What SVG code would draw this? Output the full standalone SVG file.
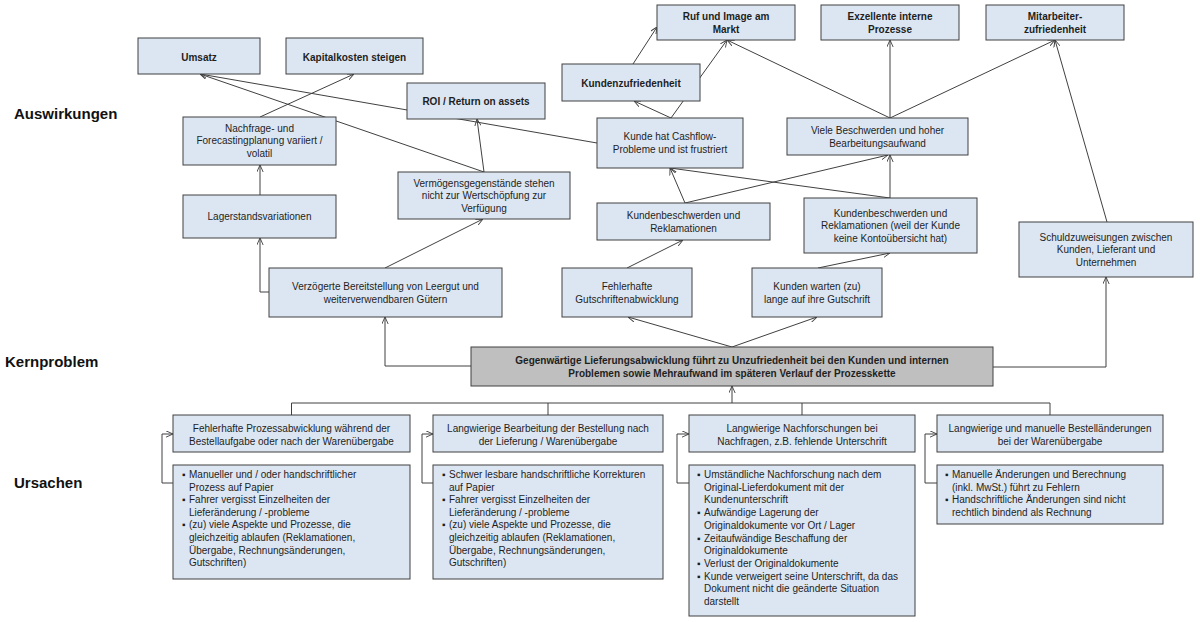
<svg xmlns="http://www.w3.org/2000/svg" width="1200" height="622" viewBox="0 0 1200 622">
<style>
.bx{fill:#dce6f2;stroke:#404040;stroke-width:1}
.core{fill:#bfbfbf;stroke:#404040;stroke-width:1}
.t{font-family:"Liberation Sans",Arial,sans-serif;font-size:10px;fill:#1e1e1e}
.c{text-anchor:middle}
.b{font-weight:bold}
.lab{font-family:"Liberation Sans",Arial,sans-serif;font-size:15px;font-weight:bold;fill:#111}
.ln{fill:none;stroke:#404040;stroke-width:1}
.a{marker-end:url(#arr)}
</style>
<defs>
<marker id="arr" viewBox="0 0 10 10" refX="10" refY="5" markerWidth="7" markerHeight="7" markerUnits="userSpaceOnUse" orient="auto">
<path d="M0,0.5 L10,5 L0,9.5" fill="none" stroke="#404040" stroke-width="1.3"/>
</marker>
</defs>
<rect width="1200" height="622" fill="#ffffff"/>

<g id="labels">
<text class="lab" x="14" y="119">Auswirkungen</text>
<text class="lab" x="5" y="367">Kernproblem</text>
<text class="lab" x="14" y="488">Ursachen</text>
</g>

<g id="connectors">
<path class="ln a" d="M597,143 L200,74"/>
<path class="ln a" d="M484,172 L200,74"/>
<path class="ln a" d="M260,117 L354,74"/>
<path class="ln a" d="M484,172 L477,119"/>
<path class="ln a" d="M260,195 L260,165"/>
<path class="ln a" d="M269,292 L260,292 L260,238"/>
<path class="ln a" d="M385,268 L483,219"/>
<path class="ln a" d="M471,366 L385,366 L385,317"/>
<path class="ln a" d="M732,347 L628,317"/>
<path class="ln a" d="M732,347 L817,317"/>
<path class="ln a" d="M993,367 L1106,367 L1106,277"/>
<path class="ln a" d="M627,268 L683,240"/>
<path class="ln a" d="M818,268 L890,253"/>
<path class="ln a" d="M890,198 L890,155"/>
<path class="ln a" d="M685,203 L670,168"/>
<path class="ln a" d="M685,203 L888,155"/>
<path class="ln a" d="M890,198 L670,168"/>
<path class="ln a" d="M671,118 L634,101"/>
<path class="ln a" d="M671,118 L727,40"/>
<path class="ln a" d="M633,64 L657,27"/>
<path class="ln a" d="M890,118 L727,40"/>
<path class="ln a" d="M890,118 L890,40"/>
<path class="ln a" d="M890,118 L1055,40"/>
<path class="ln a" d="M1107,222 L1055,40"/>
<path class="ln a" d="M732,403 L732,386"/>
<path class="ln" d="M291.5,415 L291.5,403 L1050,403 L1050,415 M548,403 L548,415 M802,403 L802,415"/>
<path class="ln a" d="M173,483 L162,483 L162,434 L173,434"/>
<path class="ln a" d="M433,483 L422,483 L422,434 L433,434"/>
<path class="ln a" d="M689,483 L677,483 L677,434 L689,434"/>
<path class="ln a" d="M937,483 L925,483 L925,434 L937,434"/>
</g>

<g id="n_umsatz"><rect class="bx" x="138" y="38" width="122" height="36"/>
<text class="t c b" x="199" y="60.5">Umsatz</text></g>
<g id="n_kapital"><rect class="bx" x="286" y="38" width="137" height="36"/>
<text class="t c b" x="354.5" y="60.5">Kapitalkosten steigen</text></g>
<g id="n_roi"><rect class="bx" x="407" y="83" width="138" height="36"/>
<text class="t c b" x="476" y="104.5">ROI / Return on assets</text></g>
<g id="n_ruf"><rect class="bx" x="657" y="5" width="138" height="35"/>
<text class="t c b" x="726" y="19.5">Ruf und Image am</text>
<text class="t c b" x="726" y="32.5">Markt</text></g>
<g id="n_exzellent"><rect class="bx" x="821" y="5" width="138" height="35"/>
<text class="t c b" x="890" y="19.5">Exzellente interne</text>
<text class="t c b" x="890" y="32.5">Prozesse</text></g>
<g id="n_mitarbeiter"><rect class="bx" x="986" y="5" width="138" height="35"/>
<text class="t c b" x="1055" y="19.5">Mitarbeiter-</text>
<text class="t c b" x="1055" y="32.5">zufriedenheit</text></g>
<g id="n_kundenzufriedenheit"><rect class="bx" x="562" y="64" width="138" height="37"/>
<text class="t c b" x="631" y="86.5">Kundenzufriedenheit</text></g>
<g id="n_cashflow"><rect class="bx" x="597" y="118" width="146" height="50"/>
<text class="t c" x="670" y="140">Kunde hat Cashflow-</text>
<text class="t c" x="670" y="153">Probleme  und ist frustriert</text></g>
<g id="n_viele"><rect class="bx" x="787" y="118" width="181" height="37"/>
<text class="t c" x="877.5" y="134">Viele Beschwerden und hoher</text>
<text class="t c" x="877.5" y="146.5">Bearbeitungsaufwand</text></g>
<g id="n_nachfrage"><rect class="bx" x="183" y="117" width="153" height="48"/>
<text class="t c" x="259.5" y="131.5">Nachfrage- und</text>
<text class="t c" x="259.5" y="144">Forecastingplanung variiert /</text>
<text class="t c" x="259.5" y="156.5">volatil</text></g>
<g id="n_lager"><rect class="bx" x="183" y="195" width="153" height="43"/>
<text class="t c" x="259.5" y="220">Lagerstandsvariationen</text></g>
<g id="n_vermoegen"><rect class="bx" x="398" y="172" width="172" height="47"/>
<text class="t c" x="484" y="186.5">Vermögensgegenstände stehen</text>
<text class="t c" x="484" y="199">nicht zur Wertschöpfung zur</text>
<text class="t c" x="484" y="211.5">Verfügung</text></g>
<g id="n_kbr"><rect class="bx" x="597" y="203" width="173" height="37"/>
<text class="t c" x="683.5" y="219">Kundenbeschwerden und</text>
<text class="t c" x="683.5" y="231.5">Reklamationen</text></g>
<g id="n_kbw"><rect class="bx" x="804" y="198" width="173" height="55"/>
<text class="t c" x="890.5" y="216.5">Kundenbeschwerden und</text>
<text class="t c" x="890.5" y="229">Reklamationen (weil der Kunde</text>
<text class="t c" x="890.5" y="241.5">keine Kontoübersicht hat)</text></g>
<g id="n_gutschrift"><rect class="bx" x="562" y="268" width="130" height="49"/>
<text class="t c" x="627" y="290">Fehlerhafte</text>
<text class="t c" x="627" y="302.5">Gutschriftenabwicklung</text></g>
<g id="n_verzoegert"><rect class="bx" x="269" y="268" width="233" height="49"/>
<text class="t c" x="385.5" y="290">Verzögerte Bereitstellung von Leergut und</text>
<text class="t c" x="385.5" y="302.5">weiterverwendbaren Gütern</text></g>
<g id="n_warten"><rect class="bx" x="752" y="268" width="130" height="49"/>
<text class="t c" x="817" y="290">Kunden warten  (zu)</text>
<text class="t c" x="817" y="302.5">lange auf ihre Gutschrift</text></g>
<g id="n_schuld"><rect class="bx" x="1019" y="222" width="174" height="55"/>
<text class="t c" x="1106" y="240.5">Schuldzuweisungen zwischen</text>
<text class="t c" x="1106" y="253">Kunden, Lieferant und</text>
<text class="t c" x="1106" y="265.5">Unternehmen</text></g>
<g id="n_kern"><rect class="core" x="471" y="347" width="522" height="39"/>
<text class="t c b" x="732" y="363.5">Gegenwärtige Lieferungsabwicklung führt zu Unzufriedenheit bei den Kunden und internen</text>
<text class="t c b" x="732" y="376.5">Problemen sowie Mehraufwand im späteren Verlauf der Prozesskette</text></g>

<g id="c1_head"><rect class="bx" x="173" y="415" width="237" height="37"/>
<text class="t c" x="291.5" y="432">Fehlerhafte Prozessabwicklung während der</text>
<text class="t c" x="291.5" y="444.5">Bestellaufgabe oder nach der Warenübergabe</text></g>
<g id="c2_head"><rect class="bx" x="433" y="415" width="230" height="37"/>
<text class="t c" x="548" y="432">Langwierige Bearbeitung der Bestellung nach</text>
<text class="t c" x="548" y="444.5">der Lieferung / Warenübergabe</text></g>
<g id="c3_head"><rect class="bx" x="689" y="415" width="226" height="37"/>
<text class="t c" x="802" y="432">Langwierige Nachforschungen bei</text>
<text class="t c" x="802" y="444.5">Nachfragen, z.B. fehlende Unterschrift</text></g>
<g id="c4_head"><rect class="bx" x="937" y="415" width="226" height="37"/>
<text class="t c" x="1050" y="432">Langwierige und manuelle Bestelländerungen</text>
<text class="t c" x="1050" y="444.5">bei der Warenübergabe</text></g>

<g id="c1_detail"><rect class="bx" x="173" y="465" width="237" height="114"/>
<text class="t" x="182" y="478">▪</text><text class="t" x="189" y="478">Manueller und / oder handschriftlicher</text>
<text class="t" x="189" y="490.6">Prozess auf Papier</text>
<text class="t" x="182" y="503.2">▪</text><text class="t" x="189" y="503.2">Fahrer vergisst Einzelheiten der</text>
<text class="t" x="189" y="515.8">Lieferänderung / -probleme</text>
<text class="t" x="182" y="528.4">▪</text><text class="t" x="189" y="528.4">(zu) viele Aspekte und Prozesse, die</text>
<text class="t" x="189" y="541">gleichzeitig ablaufen (Reklamationen,</text>
<text class="t" x="189" y="553.6">Übergabe, Rechnungsänderungen,</text>
<text class="t" x="189" y="566.2">Gutschriften)</text></g>
<g id="c2_detail"><rect class="bx" x="433" y="465" width="230" height="114"/>
<text class="t" x="442" y="478">▪</text><text class="t" x="449" y="478">Schwer lesbare handschriftliche Korrekturen</text>
<text class="t" x="449" y="490.6">auf Papier</text>
<text class="t" x="442" y="503.2">▪</text><text class="t" x="449" y="503.2">Fahrer vergisst Einzelheiten der</text>
<text class="t" x="449" y="515.8">Lieferänderung / -probleme</text>
<text class="t" x="442" y="528.4">▪</text><text class="t" x="449" y="528.4">(zu) viele Aspekte und Prozesse, die</text>
<text class="t" x="449" y="541">gleichzeitig ablaufen (Reklamationen,</text>
<text class="t" x="449" y="553.6">Übergabe, Rechnungsänderungen,</text>
<text class="t" x="449" y="566.2">Gutschriften)</text></g>
<g id="c3_detail"><rect class="bx" x="689" y="465" width="226" height="151"/>
<text class="t" x="697" y="478">▪</text><text class="t" x="704" y="478">Umständliche Nachforschung nach dem</text>
<text class="t" x="704" y="490.7">Original-Lieferdokument mit der</text>
<text class="t" x="704" y="503.4">Kundenunterschrift</text>
<text class="t" x="697" y="516.1">▪</text><text class="t" x="704" y="516.1">Aufwändige Lagerung der</text>
<text class="t" x="704" y="528.8">Originaldokumente vor Ort / Lager</text>
<text class="t" x="697" y="541.5">▪</text><text class="t" x="704" y="541.5">Zeitaufwändige Beschaffung der</text>
<text class="t" x="704" y="554.2">Originaldokumente</text>
<text class="t" x="697" y="566.9">▪</text><text class="t" x="704" y="566.9">Verlust der Originaldokumente</text>
<text class="t" x="697" y="579.6">▪</text><text class="t" x="704" y="579.6">Kunde verweigert seine Unterschrift, da das</text>
<text class="t" x="704" y="592.3">Dokument nicht die geänderte Situation</text>
<text class="t" x="704" y="605">darstellt</text></g>
<g id="c4_detail"><rect class="bx" x="937" y="465" width="226" height="59"/>
<text class="t" x="945" y="478">▪</text><text class="t" x="952" y="478">Manuelle Änderungen und Berechnung</text>
<text class="t" x="952" y="490.7">(inkl. MwSt.) führt zu Fehlern</text>
<text class="t" x="945" y="503.4">▪</text><text class="t" x="952" y="503.4">Handschriftliche Änderungen sind nicht</text>
<text class="t" x="952" y="516.1">rechtlich bindend als Rechnung</text></g>
</svg>
